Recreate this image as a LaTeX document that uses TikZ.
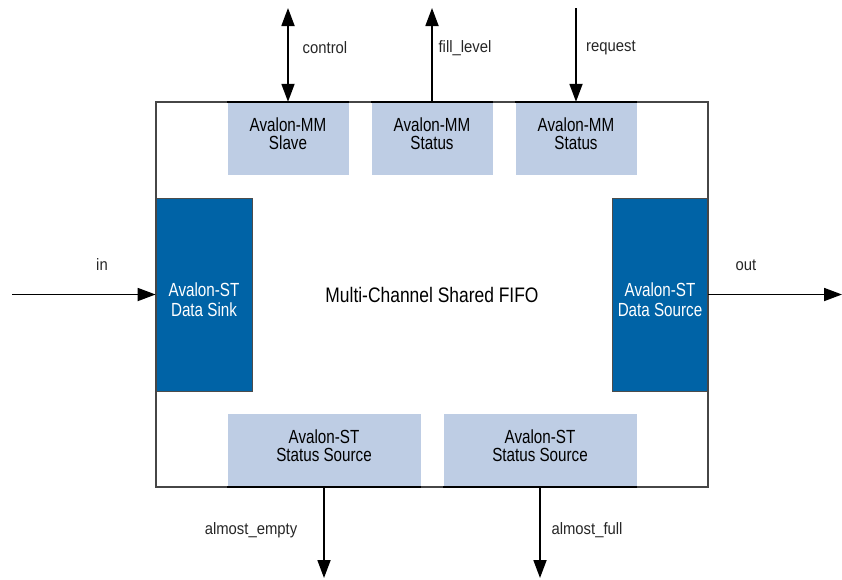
\documentclass[tikz,border=0pt]{standalone}
\usepackage{fontspec}
\setmainfont{Liberation Sans}[FakeStretch=0.9]
\newfontfamily\blockfont{Liberation Sans}[FakeStretch=0.8]
\newfontfamily\fifofont{Liberation Sans}[FakeStretch=0.83]
\usepackage{tikz}
\usetikzlibrary{arrows.meta, positioning}
\definecolor{avLight}{RGB}{190,205,228}
\definecolor{avDark}{RGB}{0,99,166}
\definecolor{boxLine}{RGB}{70,70,70}

\begin{document}
\begin{tikzpicture}[
    x=1pt, y=-1pt,
    every node/.style={inner sep=0pt},
    fifoBox/.style={rectangle, draw=boxLine, line width=1.1pt, minimum width=552pt, minimum height=385pt, align=center, font=\fifofont\fontsize{21}{21}\selectfont},
    mmBlock/.style={rectangle, fill=avLight, minimum width=121pt, minimum height=73pt, align=center, text depth=10pt, font=\blockfont\fontsize{19}{17.5}\selectfont},
    stBlock/.style={mmBlock, minimum width=193pt},
    dataBlock/.style={rectangle, fill=avDark, draw=black!70, line width=0.8pt, text=white, minimum width=96pt, minimum height=193pt, align=center, text height=45pt, font=\blockfont\fontsize{19}{20}\selectfont},
    edgeLine/.style={line width=1.8pt, black},
    sigArrow/.style={-{Triangle[length=18pt, width=13pt]}, line width=1.8pt, black},
    biArrow/.style={{Triangle[length=18pt, width=13pt]}-{Triangle[length=18pt, width=13pt]}, line width=1.8pt, black},
    sigLabel/.style={text=black!85, font=\fontsize{16.5}{16.5}\selectfont}
]
    \useasboundingbox (0,0) rectangle (842,579);

    % Inner Blocks
    \node[mmBlock] (slave)  at (288,138.5) {Avalon-MM\\Slave};
    \node[mmBlock] (fillst) at (432,138.5) {Avalon-MM\\Status};
    \node[mmBlock] (reqst)  at (576,138.5) {Avalon-MM\\Status};
    \node[stBlock] (emptyst) at (324,450.5) {Avalon-ST\\Status Source};
    \node[stBlock] (fullst)  at (540,450.5) {Avalon-ST\\Status Source};
    \node[dataBlock] (sink)   at (204,294.5) {Avalon-ST\\Data Sink};
    \node[dataBlock] (source) at (660,294.5) {Avalon-ST\\Data Source};

    % Main FIFO Box
    \node[fifoBox] (fifo) at (432,294.5) {Multi-Channel Shared FIFO};

    % Block edges on the box outline
    \foreach \blk in {slave, fillst, reqst}
        \draw[edgeLine] (\blk.north west) -- (\blk.north east);
    \foreach \blk in {emptyst, fullst}
        \draw[edgeLine] (\blk.south west) -- (\blk.south east);

    % Free Ends
    \coordinate (ctrlEnd)  at (288,8);
    \coordinate (fillEnd)  at (432,8);
    \coordinate (reqEnd)   at (576,8);
    \coordinate (inEnd)    at (12,294.5);
    \coordinate (outEnd)   at (842,294.5);
    \coordinate (emptyEnd) at (324,578);
    \coordinate (fullEnd)  at (540,578);

    % Signals
    \draw[biArrow]  (ctrlEnd) -- (slave.north);
    \draw[sigArrow] (fillst.north) -- (fillEnd);
    \draw[sigArrow] (reqEnd) -- (reqst.north);
    \draw[sigArrow] (inEnd) -- (sink.west);
    \draw[sigArrow] (source.east) -- (outEnd);
    \draw[sigArrow] (emptyst.south) -- (emptyEnd);
    \draw[sigArrow] (fullst.south) -- (fullEnd);

    % Signal Labels
    \node[sigLabel] (ctrlLbl)  at (325,48)  {control};
    \node[sigLabel] (fillLbl)  at (465,48)  {fill\_level};
    \node[sigLabel] (reqLbl)   at (611,48)  {request};
    \node[sigLabel] (inLbl)    at (102,265) {in};
    \node[sigLabel] (outLbl)   at (746,265) {out};
    \node[sigLabel] (emptyLbl) at (251,530) {almost\_empty};
    \node[sigLabel] (fullLbl)  at (587,530) {almost\_full};
\end{tikzpicture}
\end{document}
